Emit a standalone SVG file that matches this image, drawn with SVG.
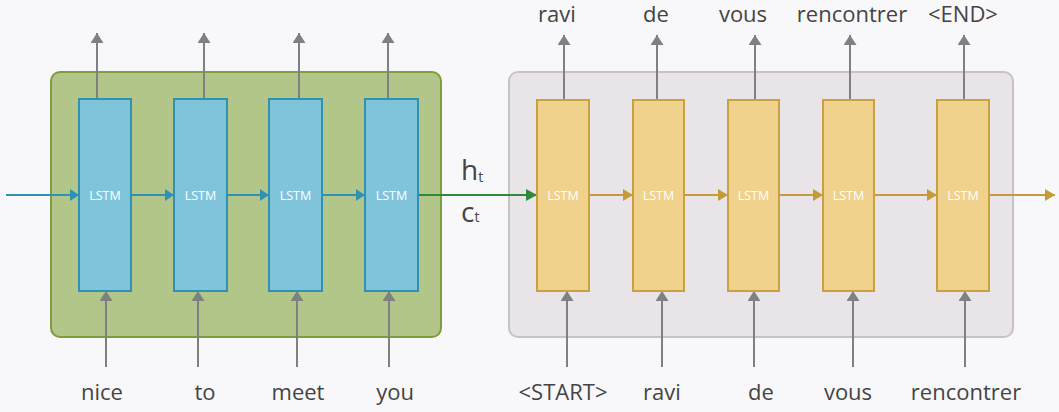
<svg xmlns="http://www.w3.org/2000/svg" width="1059" height="412" viewBox="0 0 1059 412">
<defs>
<style>
.bg{fill:#f8f8fa}
.enc{fill:#b3c68a;stroke:#7f9c3e;stroke-width:2}
.dec{fill:#e8e4e8;stroke:#c6c2c6;stroke-width:2}
.blue{fill:#80c4dc;stroke:#2f92b4;stroke-width:2}
.yel{fill:#f0d28c;stroke:#c9a13e;stroke-width:2}
.lbl{font-family:"Open Sans","Noto Sans",sans-serif;font-size:12.5px;fill:#ffffff;text-anchor:middle}
.word{font-family:"Open Sans","Noto Sans",sans-serif;font-size:22px;fill:#444444;text-anchor:middle}
.hc{font-family:"Open Sans","Noto Sans",sans-serif;font-size:28px;fill:#444444}
.sub{font-size:14px}
.g{stroke:#808080;stroke-width:2;fill:none;marker-end:url(#ag)}
.b{stroke:#2f92b4;stroke-width:2;fill:none;marker-end:url(#ab)}
.gr{stroke:#2e8a3a;stroke-width:2;fill:none;marker-end:url(#agr)}
.y{stroke:#c49a3a;stroke-width:2;fill:none;marker-end:url(#ay)}
</style>
<marker id="ag" markerUnits="userSpaceOnUse" markerWidth="13" markerHeight="13" refX="10" refY="6.5" orient="auto"><path d="M0,0 L10,6.5 L0,13 z" fill="#808080"/></marker>
<marker id="ab" markerUnits="userSpaceOnUse" markerWidth="12" markerHeight="12" refX="9" refY="6" orient="auto"><path d="M0,0 L9,6 L0,12 z" fill="#2f92b4"/></marker>
<marker id="agr" markerUnits="userSpaceOnUse" markerWidth="12" markerHeight="12" refX="11" refY="6" orient="auto"><path d="M0,0 L11,6 L0,12 z" fill="#2e8a3a"/></marker>
<marker id="ay" markerUnits="userSpaceOnUse" markerWidth="12" markerHeight="12" refX="10" refY="6" orient="auto"><path d="M0,0 L10,6 L0,12 z" fill="#c49a3a"/></marker>
</defs>
<rect class="bg" x="0" y="0" width="1059" height="412"/>
<g id="encoder">
<rect class="enc" x="51" y="72" width="390" height="265" rx="9"/>
</g>
<g id="decoder">
<rect class="dec" x="509" y="72" width="504" height="265" rx="9"/>
</g>
<g id="connectors">
<line class="b" x1="6" y1="195" x2="79" y2="195"/>
<line class="b" x1="131" y1="195" x2="174" y2="195"/>
<line class="b" x1="227" y1="195" x2="269" y2="195"/>
<line class="b" x1="322" y1="195" x2="365" y2="195"/>
<line class="gr" x1="418" y1="195" x2="537" y2="195"/>
<line class="y" x1="589" y1="195" x2="633" y2="195"/>
<line class="y" x1="684" y1="195" x2="728" y2="195"/>
<line class="y" x1="779" y1="195" x2="823" y2="195"/>
<line class="y" x1="874" y1="195" x2="937" y2="195"/>
<line class="y" x1="989" y1="195" x2="1055" y2="195"/>
<line class="g" x1="97" y1="99" x2="97" y2="33"/>
<line class="g" x1="204" y1="99" x2="204" y2="33"/>
<line class="g" x1="299" y1="99" x2="299" y2="33"/>
<line class="g" x1="388" y1="99" x2="388" y2="33"/>
<line class="g" x1="106" y1="367" x2="106" y2="291"/>
<line class="g" x1="198" y1="367" x2="198" y2="291"/>
<line class="g" x1="297" y1="367" x2="297" y2="291"/>
<line class="g" x1="389" y1="367" x2="389" y2="291"/>
<line class="g" x1="564" y1="100" x2="564" y2="35"/>
<line class="g" x1="657" y1="100" x2="657" y2="35"/>
<line class="g" x1="755" y1="100" x2="755" y2="35"/>
<line class="g" x1="850" y1="100" x2="850" y2="35"/>
<line class="g" x1="964" y1="100" x2="964" y2="35"/>
<line class="g" x1="567" y1="367" x2="567" y2="291"/>
<line class="g" x1="662" y1="367" x2="662" y2="291"/>
<line class="g" x1="754" y1="367" x2="754" y2="291"/>
<line class="g" x1="853" y1="367" x2="853" y2="291"/>
<line class="g" x1="965" y1="367" x2="965" y2="291"/>
</g>
<g id="enc1"><rect class="blue" x="79" y="99" width="52" height="192"/><text class="lbl" x="105" y="200">LSTM</text></g>
<g id="enc2"><rect class="blue" x="174" y="99" width="53" height="192"/><text class="lbl" x="200.5" y="200">LSTM</text></g>
<g id="enc3"><rect class="blue" x="269" y="99" width="53" height="192"/><text class="lbl" x="295.5" y="200">LSTM</text></g>
<g id="enc4"><rect class="blue" x="365" y="99" width="53" height="192"/><text class="lbl" x="391.5" y="200">LSTM</text></g>
<g id="dec1"><rect class="yel" x="537" y="100" width="52" height="191"/><text class="lbl" x="563" y="200">LSTM</text></g>
<g id="dec2"><rect class="yel" x="633" y="100" width="51" height="191"/><text class="lbl" x="658.5" y="200">LSTM</text></g>
<g id="dec3"><rect class="yel" x="728" y="100" width="51" height="191"/><text class="lbl" x="753.5" y="200">LSTM</text></g>
<g id="dec4"><rect class="yel" x="823" y="100" width="51" height="191"/><text class="lbl" x="848.5" y="200">LSTM</text></g>
<g id="dec5"><rect class="yel" x="937" y="100" width="52" height="191"/><text class="lbl" x="963" y="200">LSTM</text></g>
<g id="state">
<text class="hc" x="461" y="180">h<tspan class="sub" dy="2">t</tspan></text>
<text class="hc" x="461" y="222">c<tspan class="sub" dy="0">t</tspan></text>
</g>
<g id="outputs">
<text class="word" x="557" y="22">ravi</text>
<text class="word" x="656" y="22">de</text>
<text class="word" x="743" y="22">vous</text>
<text class="word" x="852" y="22">rencontrer</text>
<text class="word" x="963" y="22">&lt;END&gt;</text>
</g>
<g id="inputs">
<text class="word" x="102" y="400">nice</text>
<text class="word" x="205" y="400">to</text>
<text class="word" x="298" y="400">meet</text>
<text class="word" x="395" y="400">you</text>
<text class="word" x="563" y="400">&lt;START&gt;</text>
<text class="word" x="662" y="400">ravi</text>
<text class="word" x="761" y="400">de</text>
<text class="word" x="848" y="400">vous</text>
<text class="word" x="966" y="400">rencontrer</text>
</g>
</svg>
